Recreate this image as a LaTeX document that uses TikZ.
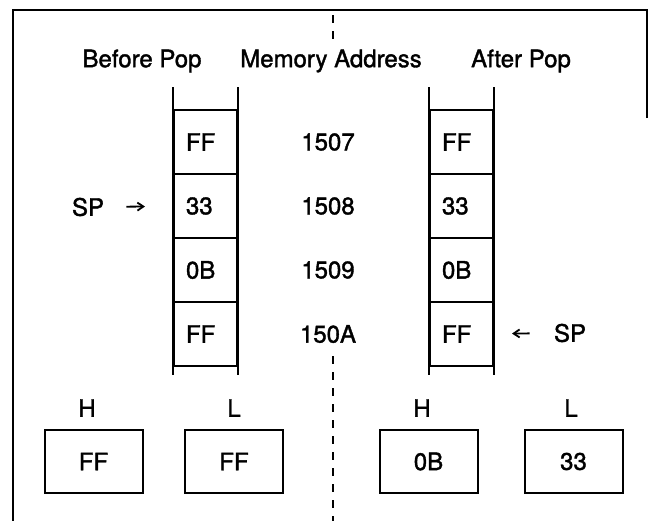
\documentclass[tikz,border=0pt]{standalone}
\usepackage{fontspec}
\newfontfamily\diagfont{TeX Gyre Heros}[FakeBold=1.5]
\usetikzlibrary{positioning,arrows.meta}

\begin{document}
\begin{tikzpicture}[
  x=0.5pt, y=-0.5pt,
  every node/.style={font=\diagfont\fontsize{12}{14}\selectfont},
  memcell/.style={draw, line width=1pt, minimum height=32pt, inner ysep=0pt,
                  inner xsep=6pt, text width=19.5pt, align=left},
  regbox/.style={draw, line width=1pt, minimum width=49pt, minimum height=31.5pt},
  rail/.style={line width=1pt},
  ptr/.style={-{Straight Barb[length=3pt,width=4pt]}, line width=0.9pt},
  divider/.style={line width=0.8pt, dash pattern=on 4pt off 4pt}
]
  \useasboundingbox (0,0) rectangle (649,521);

  % Outer frame
  \draw[line width=1pt] (647,118) -- (647,10) -- (13,10) -- (13,521);

  % Titles
  \node (tbefore) at (142,61) {Before Pop};
  \node (taddr) at (331,61) {Memory Address};
  \node (tafter) at (521,61) {After Pop};

  % Stacks and addresses
  \foreach \i/\lv/\av/\rv in {1/FF/1507/FF, 2/33/1508/33, 3/0B/1509/0B, 4/FF/150A/FF} {
    \node[memcell] (lc\i) at (205.5,{78+64*\i}) {\lv};
    \node (ad\i) at (328,{78+64*\i}) {\av};
    \node[memcell] (rc\i) at (461.5,{78+64*\i}) {\rv};
  }

  % Stack rails
  \draw[rail] ([yshift=11pt]lc1.north west) -- ([yshift=-4pt]lc4.south west);
  \draw[rail] ([yshift=11pt]lc1.north east) -- ([yshift=-4pt]lc4.south east);
  \draw[rail] ([yshift=11pt]rc1.north west) -- ([yshift=-4pt]rc4.south west);
  \draw[rail] ([yshift=11pt]rc1.north east) -- ([yshift=-4pt]rc4.south east);

  % Stack pointers
  \node[inner sep=0pt] (spb) at (88,207) {SP};
  \node[inner sep=0pt] (spa) at (570,333) {SP};
  \draw[ptr, shorten <=11pt, shorten >=14pt] (spb) -- (lc2);
  \draw[ptr, shorten <=12pt, shorten >=9pt] (spa) -- (rc4);

  % Divider
  \coordinate (dtop) at (333,15);
  \coordinate (dmid) at (333,40);
  \coordinate (dlow) at (333,356);
  \coordinate (dend) at (333,521);
  \draw[divider] (dtop) -- (dmid);
  \draw[divider] (dlow) -- (dend);

  % Registers
  \node (hb) at (87,408) {H};
  \node (lb) at (234,408) {L};
  \node (ha) at (422,408) {H};
  \node (la) at (571,408) {L};
  \node[regbox] (rhb) at (93.5,461.5) {FF};
  \node[regbox] (rlb) at (234,461.5) {FF};
  \node[regbox] (rha) at (428.5,461.5) {0B};
  \node[regbox] (rla) at (573.5,461.5) {33};
\end{tikzpicture}
\end{document}
